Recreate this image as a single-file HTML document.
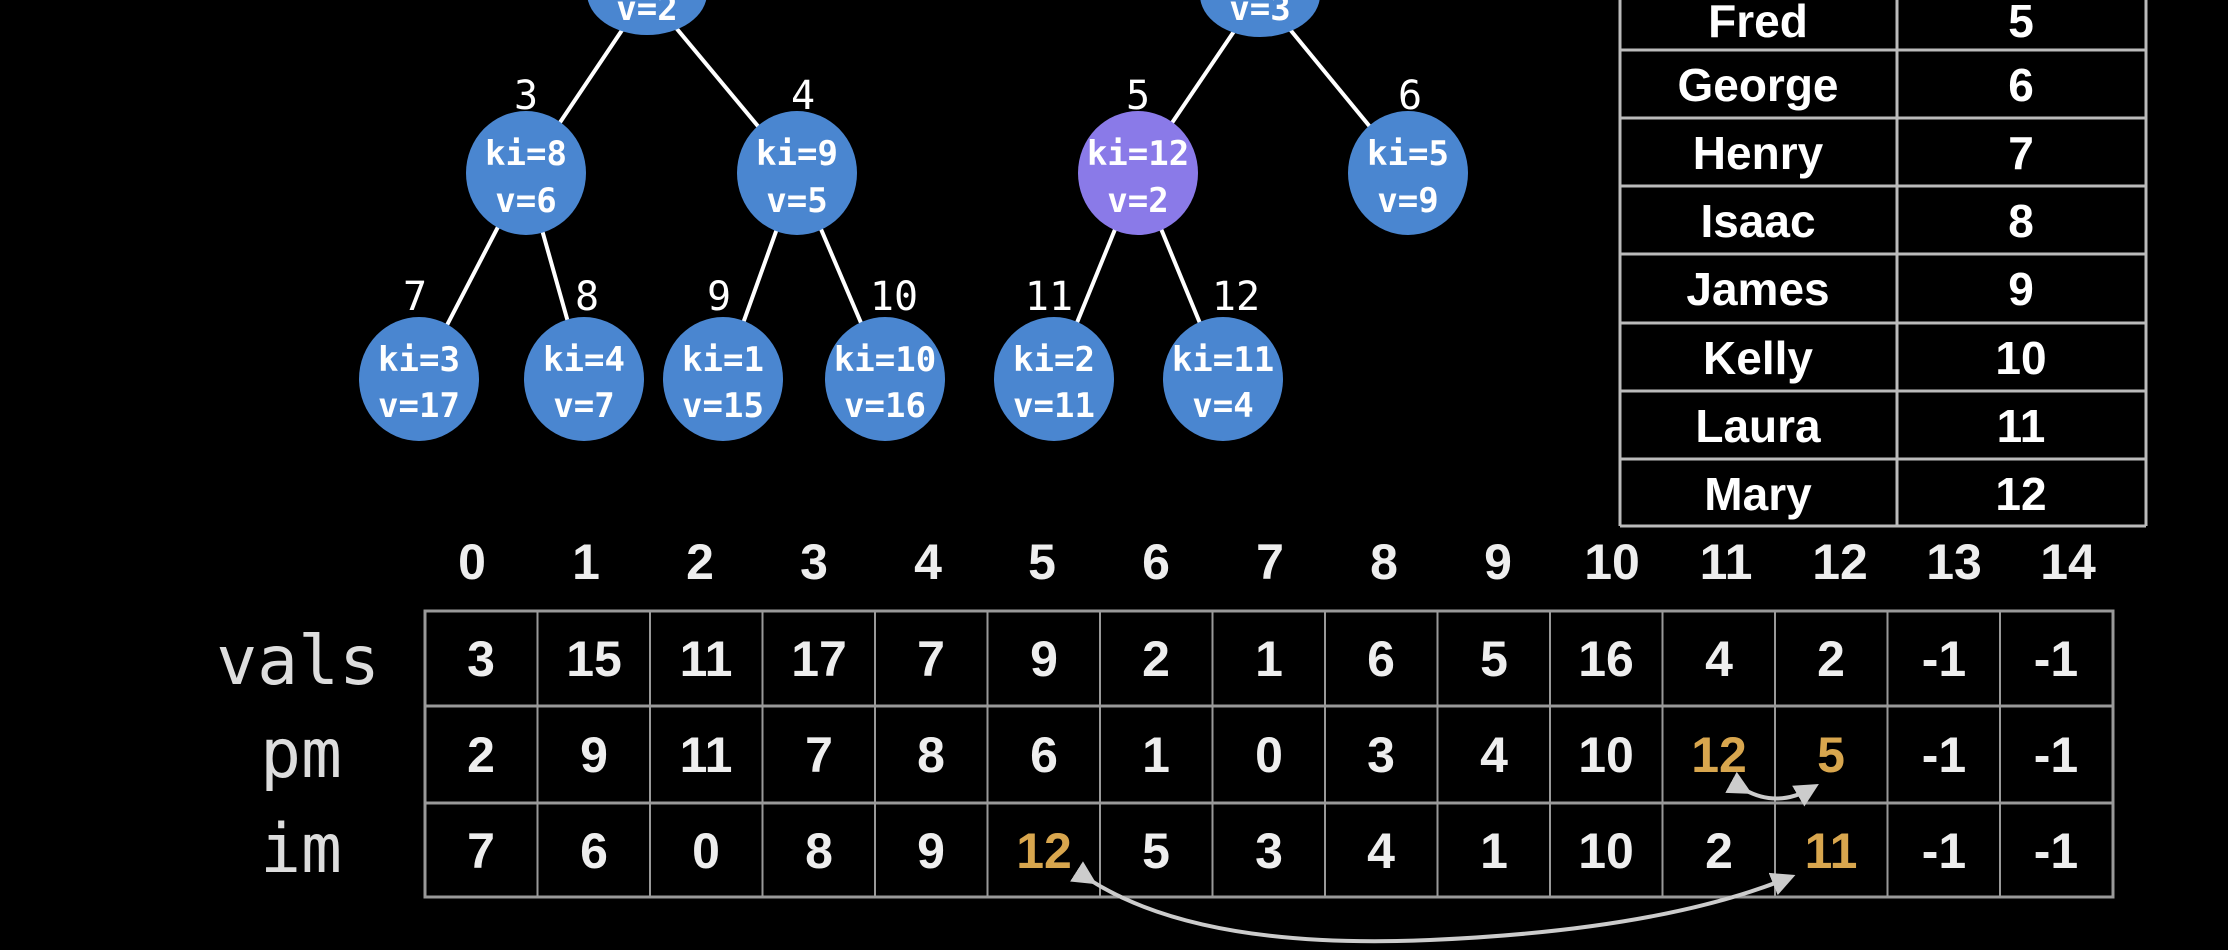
<!DOCTYPE html>
<html><head><meta charset="utf-8"><style>
html,body{margin:0;padding:0;background:#000;}
svg{display:block;}
.nt{font-family:"DejaVu Sans Mono","Liberation Mono",monospace;font-weight:bold;font-size:34px;fill:#fff;text-anchor:middle;}
.lb{font-family:"DejaVu Sans Mono","Liberation Mono",monospace;font-size:40px;fill:#fff;text-anchor:middle;}
.cv{font-family:"Liberation Sans",Arial,sans-serif;font-weight:bold;font-size:50px;fill:#eee;text-anchor:middle;}
.gd{fill:#d8a64e;}
.rl{font-family:"DejaVu Sans Mono","Liberation Mono",monospace;font-size:68px;fill:#ddd;text-anchor:end;}
.tb{font-family:"Liberation Sans",Arial,sans-serif;font-weight:bold;font-size:46px;fill:#fff;text-anchor:middle;}
</style></head><body>
<svg width="2228" height="950" viewBox="0 0 2228 950" xmlns="http://www.w3.org/2000/svg">
<rect width="2228" height="950" fill="#000"/>
<g stroke="#fff" stroke-width="4">
<line x1="647" y1="-7" x2="526" y2="173"/><line x1="647" y1="-7" x2="797" y2="173"/>
<line x1="1260" y1="-7" x2="1138" y2="173"/><line x1="1260" y1="-7" x2="1408" y2="173"/>
<line x1="526" y1="173" x2="419" y2="379"/><line x1="526" y1="173" x2="584" y2="379"/>
<line x1="797" y1="173" x2="723" y2="379"/><line x1="797" y1="173" x2="885" y2="379"/>
<line x1="1138" y1="173" x2="1054" y2="379"/><line x1="1138" y1="173" x2="1223" y2="379"/>
</g>
<g fill="#4a86d0">
<ellipse cx="647" cy="-7" rx="60" ry="42"/><ellipse cx="1260" cy="-5" rx="60" ry="42"/>
<ellipse cx="526" cy="173" rx="60" ry="62"/><ellipse cx="797" cy="173" rx="60" ry="62"/>
<ellipse cx="1138" cy="173" rx="60" ry="62" fill="#8a7ae8"/><ellipse cx="1408" cy="173" rx="60" ry="62"/>
<ellipse cx="419" cy="379" rx="60" ry="62"/><ellipse cx="584" cy="379" rx="60" ry="62"/>
<ellipse cx="723" cy="379" rx="60" ry="62"/><ellipse cx="885" cy="379" rx="60" ry="62"/>
<ellipse cx="1054" cy="379" rx="60" ry="62"/><ellipse cx="1223" cy="379" rx="60" ry="62"/>
</g>
<text class="nt" x="647" y="20">v=2</text><text class="nt" x="1260" y="20">v=3</text>
<text class="nt" x="526" y="165">ki=8</text><text class="nt" x="526" y="212">v=6</text>
<text class="nt" x="797" y="165">ki=9</text><text class="nt" x="797" y="212">v=5</text>
<text class="nt" x="1138" y="165">ki=12</text><text class="nt" x="1138" y="212">v=2</text>
<text class="nt" x="1408" y="165">ki=5</text><text class="nt" x="1408" y="212">v=9</text>
<text class="nt" x="419" y="371">ki=3</text><text class="nt" x="419" y="417">v=17</text>
<text class="nt" x="584" y="371">ki=4</text><text class="nt" x="584" y="417">v=7</text>
<text class="nt" x="723" y="371">ki=1</text><text class="nt" x="723" y="417">v=15</text>
<text class="nt" x="885" y="371">ki=10</text><text class="nt" x="885" y="417">v=16</text>
<text class="nt" x="1054" y="371">ki=2</text><text class="nt" x="1054" y="417">v=11</text>
<text class="nt" x="1223" y="371">ki=11</text><text class="nt" x="1223" y="417">v=4</text>
<text class="lb" x="526" y="109">3</text><text class="lb" x="803" y="109">4</text>
<text class="lb" x="1138" y="109">5</text><text class="lb" x="1410" y="109">6</text>
<text class="lb" x="415" y="310">7</text><text class="lb" x="587" y="310">8</text>
<text class="lb" x="719" y="310">9</text><text class="lb" x="894" y="310">10</text>
<text class="lb" x="1049" y="310">11</text><text class="lb" x="1236" y="310">12</text>
<g stroke="#bbb" stroke-width="3" fill="none">
<line x1="1620" y1="0" x2="1620" y2="526"/><line x1="1897" y1="0" x2="1897" y2="526"/><line x1="2146" y1="0" x2="2146" y2="526"/>
<line x1="1620" y1="50" x2="2146" y2="50"/><line x1="1620" y1="118" x2="2146" y2="118"/><line x1="1620" y1="186" x2="2146" y2="186"/>
<line x1="1620" y1="254" x2="2146" y2="254"/><line x1="1620" y1="323" x2="2146" y2="323"/><line x1="1620" y1="391" x2="2146" y2="391"/>
<line x1="1620" y1="459" x2="2146" y2="459"/><line x1="1620" y1="526" x2="2146" y2="526"/>
</g>
<text class="tb" x="1758" y="37">Fred</text><text class="tb" x="2021" y="37">5</text>
<text class="tb" x="1758" y="101">George</text><text class="tb" x="2021" y="101">6</text>
<text class="tb" x="1758" y="169">Henry</text><text class="tb" x="2021" y="169">7</text>
<text class="tb" x="1758" y="237">Isaac</text><text class="tb" x="2021" y="237">8</text>
<text class="tb" x="1758" y="305">James</text><text class="tb" x="2021" y="305">9</text>
<text class="tb" x="1758" y="374">Kelly</text><text class="tb" x="2021" y="374">10</text>
<text class="tb" x="1758" y="442">Laura</text><text class="tb" x="2021" y="442">11</text>
<text class="tb" x="1758" y="510">Mary</text><text class="tb" x="2021" y="510">12</text>
<g>
<text class="cv" x="472" y="579">0</text><text class="cv" x="586" y="579">1</text><text class="cv" x="700" y="579">2</text>
<text class="cv" x="814" y="579">3</text><text class="cv" x="928" y="579">4</text><text class="cv" x="1042" y="579">5</text>
<text class="cv" x="1156" y="579">6</text><text class="cv" x="1270" y="579">7</text><text class="cv" x="1384" y="579">8</text>
<text class="cv" x="1498" y="579">9</text><text class="cv" x="1612" y="579">10</text><text class="cv" x="1726" y="579">11</text>
<text class="cv" x="1840" y="579">12</text><text class="cv" x="1954" y="579">13</text><text class="cv" x="2068" y="579">14</text>
</g>
<text class="rl" x="380" y="684">vals</text>
<text class="rl" x="342" y="777">pm</text>
<text class="rl" x="342" y="872">im</text>
<g stroke="#999" stroke-width="3" fill="none">
<rect x="425" y="611" width="1688" height="286"/>
<line x1="425" y1="706" x2="2113" y2="706"/><line x1="425" y1="803" x2="2113" y2="803"/>
</g>
<g stroke="#999" stroke-width="2">
<line x1="537.5" y1="611" x2="537.5" y2="897"/><line x1="650" y1="611" x2="650" y2="897"/><line x1="762.5" y1="611" x2="762.5" y2="897"/>
<line x1="875" y1="611" x2="875" y2="897"/><line x1="987.5" y1="611" x2="987.5" y2="897"/><line x1="1100" y1="611" x2="1100" y2="897"/>
<line x1="1212.5" y1="611" x2="1212.5" y2="897"/><line x1="1325" y1="611" x2="1325" y2="897"/><line x1="1437.5" y1="611" x2="1437.5" y2="897"/>
<line x1="1550" y1="611" x2="1550" y2="897"/><line x1="1662.5" y1="611" x2="1662.5" y2="897"/><line x1="1775" y1="611" x2="1775" y2="897"/>
<line x1="1887.5" y1="611" x2="1887.5" y2="897"/><line x1="2000" y1="611" x2="2000" y2="897"/>
</g>
<g>
<text class="cv" x="481" y="676">3</text><text class="cv" x="594" y="676">15</text><text class="cv" x="706" y="676">11</text>
<text class="cv" x="819" y="676">17</text><text class="cv" x="931" y="676">7</text><text class="cv" x="1044" y="676">9</text>
<text class="cv" x="1156" y="676">2</text><text class="cv" x="1269" y="676">1</text><text class="cv" x="1381" y="676">6</text>
<text class="cv" x="1494" y="676">5</text><text class="cv" x="1606" y="676">16</text><text class="cv" x="1719" y="676">4</text>
<text class="cv" x="1831" y="676">2</text><text class="cv" x="1944" y="676">-1</text><text class="cv" x="2056" y="676">-1</text>
<text class="cv" x="481" y="772">2</text><text class="cv" x="594" y="772">9</text><text class="cv" x="706" y="772">11</text>
<text class="cv" x="819" y="772">7</text><text class="cv" x="931" y="772">8</text><text class="cv" x="1044" y="772">6</text>
<text class="cv" x="1156" y="772">1</text><text class="cv" x="1269" y="772">0</text><text class="cv" x="1381" y="772">3</text>
<text class="cv" x="1494" y="772">4</text><text class="cv" x="1606" y="772">10</text><text class="cv gd" x="1719" y="772">12</text>
<text class="cv gd" x="1831" y="772">5</text><text class="cv" x="1944" y="772">-1</text><text class="cv" x="2056" y="772">-1</text>
<text class="cv" x="481" y="868">7</text><text class="cv" x="594" y="868">6</text><text class="cv" x="706" y="868">0</text>
<text class="cv" x="819" y="868">8</text><text class="cv" x="931" y="868">9</text><text class="cv gd" x="1044" y="868">12</text>
<text class="cv" x="1156" y="868">5</text><text class="cv" x="1269" y="868">3</text><text class="cv" x="1381" y="868">4</text>
<text class="cv" x="1494" y="868">1</text><text class="cv" x="1606" y="868">10</text><text class="cv" x="1719" y="868">2</text>
<text class="cv gd" x="1831" y="868">11</text><text class="cv" x="1944" y="868">-1</text><text class="cv" x="2056" y="868">-1</text>
</g>
<defs>
<marker id="ah" markerWidth="6" markerHeight="6" refX="4" refY="3" orient="auto" markerUnits="strokeWidth">
<path d="M0,0 L6,3 L0,6 Z" fill="#ccc"/></marker>
</defs>
<g stroke="#ccc" stroke-width="4" fill="none">
<path d="M1745,790 Q1778,808 1812,788" marker-start="url(#ah)" marker-end="url(#ah)"/>
<path d="M1090,880 Q1200,950 1430,940 Q1660,930 1788,878" marker-start="url(#ah)" marker-end="url(#ah)"/>
</g>
</svg>
</body></html>
